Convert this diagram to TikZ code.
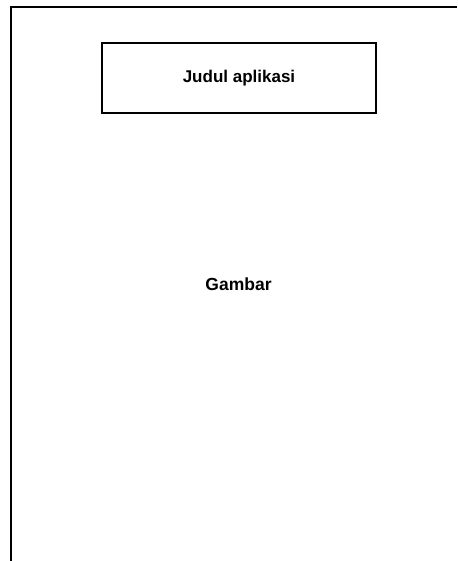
\documentclass[tikz,border=0pt]{standalone}
\usepackage{fontspec}
\setmainfont{Liberation Sans}
\begin{document}
\begin{tikzpicture}[x=1pt,y=-1pt,
  frameline/.style={line width=2pt, black},
  titlebox/.style={draw, line width=1.8pt, minimum width=274pt, minimum height=70pt,
    font=\fontsize{17}{20}\selectfont\bfseries, inner sep=0pt},
  caption/.style={font=\fontsize{17.5}{20}\selectfont\bfseries, inner sep=0pt}]
  \useasboundingbox (0,0) rectangle (457,561);
  \fill[white] (0,0) rectangle (457,561);
  % open page frame: top and left edges only
  \coordinate (tr) at (457,7.5);
  \coordinate (tl) at (10.5,7.5);
  \coordinate (bl) at (10.5,561);
  \draw[frameline] (tr) -- (tl) -- (bl);
  % application title block
  \node[titlebox] (title) at (239,78) {Judul aplikasi};
  % image placeholder label
  \node[caption] (img) at (238.5,284) {Gambar};
\end{tikzpicture}
\end{document}
